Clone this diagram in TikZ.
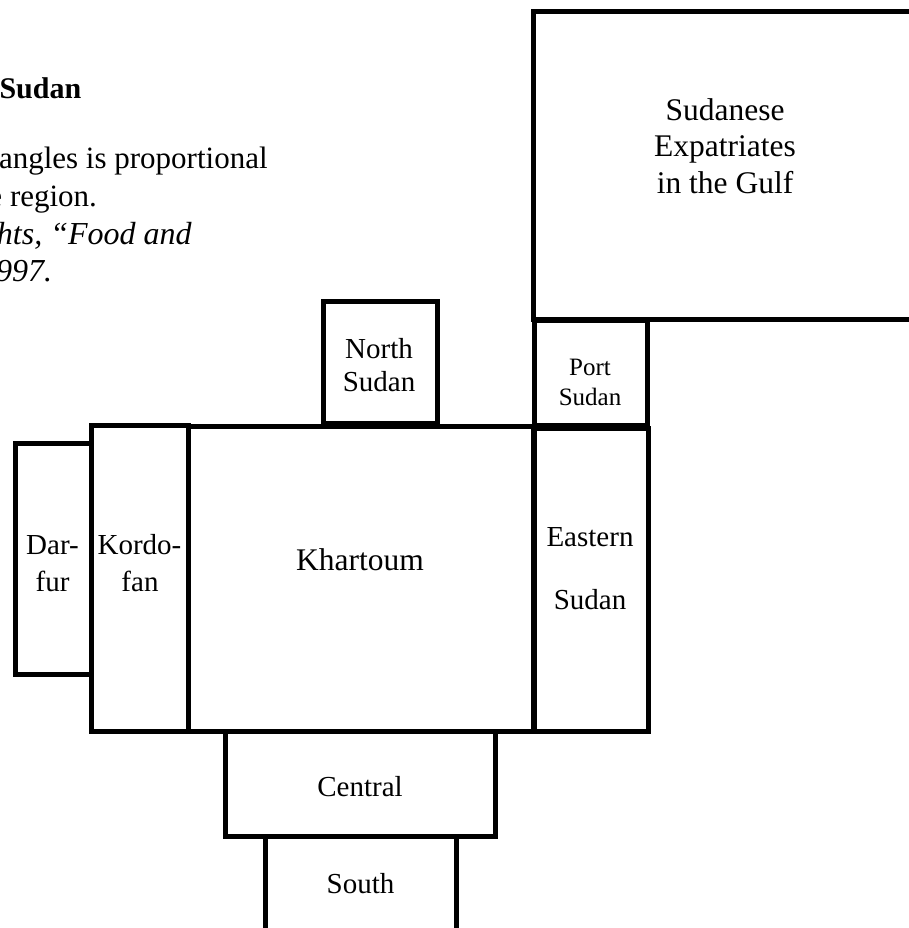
\documentclass[tikz,border=0pt]{standalone}
\usepackage{fontspec}
\setmainfont{Liberation Serif}
\begin{document}
\begin{tikzpicture}[x=1pt,y=-1pt,
  box/.style={draw=black, line width=5pt, inner sep=0pt, outer sep=0pt, fill=none},
  lbl/.style={anchor=base, inner sep=0pt, outer sep=0pt, font=\fontsize{29}{29}\selectfont},
  big/.style={lbl, font=\fontsize{31.5}{31.5}\selectfont},
  small/.style={lbl, font=\fontsize{25}{25}\selectfont},
  note/.style={anchor=base west, inner sep=0pt, outer sep=0pt, font=\fontsize{31}{31}\selectfont},
  inote/.style={note, font=\fontsize{32}{32}\selectfont\itshape}]
\useasboundingbox (0,0) rectangle (908,928);
% region boxes
\node[box, minimum width=427pt, minimum height=307.5pt] (gulf) at (746.5,165.75) {};
\node[box, minimum width=114pt, minimum height=122pt] (north) at (380,362) {};
\node[box, minimum width=113.5pt, minimum height=105.5pt] (port) at (590.75,372.75) {};
\node[box, minimum width=96.5pt, minimum height=306pt] (kordofan) at (139.75,578.5) {};
\node[box, minimum width=76.5pt, minimum height=230.5pt] (darfur) at (53.25,558.75) {};
\node[box, minimum width=345pt, minimum height=305pt] (khartoum) at (360.5,578.5) {};
\node[box, minimum width=114pt, minimum height=303.5pt] (eastern) at (591,579.75) {};
\node[box, minimum width=269.5pt, minimum height=105pt] (central) at (360.25,783.5) {};
\node[box, minimum width=191.5pt, minimum height=154pt] (south) at (360.75,913) {};
% labels
\node[big] (gulf1) at (725,120.5) {Sudanese};
\node[big] (gulf2) at (725,157) {Expatriates};
\node[big] (gulf3) at (725,193.5) {in the Gulf};
\node[lbl] (north1) at (379,358) {North};
\node[lbl] (north2) at (379,391) {Sudan};
\node[small] (port1) at (590,375) {Port};
\node[small] (port2) at (590,405) {Sudan};
\node[lbl] (dar1) at (52.5,554) {Dar-};
\node[lbl] (dar2) at (52.5,591) {fur};
\node[lbl] (kor1) at (139.5,554) {Kordo-};
\node[lbl] (kor2) at (140,591) {fan};
\node[big] (khart) at (360,570.5) {Khartoum};
\node[lbl] (east1) at (590,546) {Eastern};
\node[lbl] (east2) at (590,609) {Sudan};
\node[lbl] (cent) at (360,796) {Central};
\node[lbl] (southt) at (360.5,893) {South};
% caption text (cut off at the left edge)
\node[note, font=\fontsize{30}{30}\selectfont\bfseries] (title) at (-0.5,99) {Sudan};
\node[note] (cap1) at (-1,168) {angles is proportional};
\node[note] (cap2) at (-11.5,206.5) {e region.};
\node[inote] (cap3) at (-3,244.5) {hts, “Food and};
\node[inote] (cap4) at (-4,281.5) {997.};
\end{tikzpicture}
\end{document}
